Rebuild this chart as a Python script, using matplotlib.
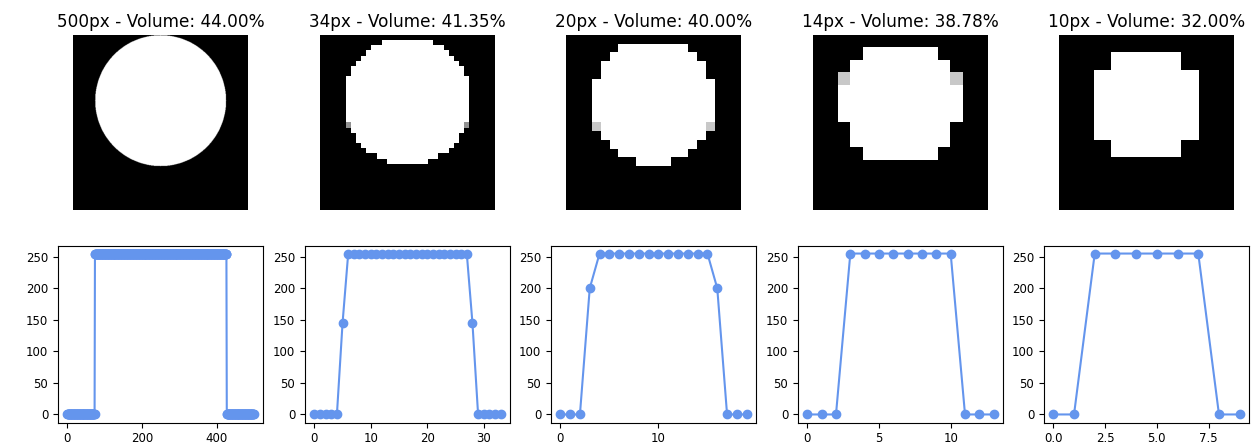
import numpy as np
import matplotlib
matplotlib.use('Agg')
import matplotlib.pyplot as plt

# resolutions and volumes shown in the titles
sizes = [500, 34, 20, 14, 10]
volumes = [44.00, 41.35, 40.00, 38.78, 32.00]

# full resolution disk (col, row) + radius
disk_center = (250, 187)
disk_radius = 187

# downsampled images: white span (first col, last col) for each row, None = empty row
spans_34 = ([None, (12, 21), (10, 23), (9, 24), (8, 25), (7, 26), (6, 27), (6, 27)]
            + [(5, 28)] * 10
            + [(6, 27), (7, 26), (7, 26), (8, 25), (9, 24), (11, 22), (13, 20)]
            + [None] * 9)
spans_20 = ([None, (6, 13), (5, 14), (4, 15), (4, 15)]
            + [(3, 16)] * 6
            + [(4, 15), (5, 14), (6, 13), (8, 11)]
            + [None] * 5)
spans_14 = ([None, (4, 9), (3, 10)]
            + [(2, 11)] * 4
            + [(3, 10), (3, 10), (4, 9)]
            + [None] * 4)
spans_10 = [None, (3, 6)] + [(2, 7)] * 4 + [(3, 6)] + [None] * 3

# grey edge pixels (row, col) and their value
grays_34 = [(17, 5), (17, 28)]
grays_20 = [(10, 3), (10, 16)]
grays_14 = [(3, 2), (3, 11)]
gray_values = [0, 145, 200, 200, 0]

xticks = [[0, 200, 400], [0, 10, 20, 30], [0, 10], [0, 5, 10], [0.0, 2.5, 5.0, 7.5]]
yticks = [0, 50, 100, 150, 200, 250]

LINE_COLOR = 'cornflowerblue'


def disk_image(n):
    rows, cols = np.ogrid[:n, :n]
    cx, cy = disk_center
    mask = (cols - cx) ** 2 + (rows - cy) ** 2 <= disk_radius ** 2
    return np.where(mask, 255, 0).astype(np.uint8)


def span_image(n, spans, grays, gray_value):
    img = np.zeros((n, n), dtype=np.uint8)
    for r, s in enumerate(spans):
        if s is not None:
            img[r, s[0]:s[1] + 1] = 255
    for r, c in grays:
        img[r, c] = gray_value
    return img


images = [
    disk_image(500),
    span_image(34, spans_34, grays_34, gray_values[1]),
    span_image(20, spans_20, grays_20, gray_values[2]),
    span_image(14, spans_14, grays_14, gray_values[3]),
    span_image(10, spans_10, [], gray_values[4]),
]

W, H = 1257, 446
fig = plt.figure(figsize=(W / 100, H / 100), dpi=100)

centers = [160.5, 407.5, 653.5, 900.5, 1146.5]
for i, (n, img) in enumerate(zip(sizes, images)):
    cx = centers[i]

    # top row: the image
    ax = fig.add_axes([(cx - 87.5) / W, (H - 210) / H, 175 / W, 175 / H])
    ax.imshow(img, cmap='gray', vmin=0, vmax=255,
              interpolation='nearest' if n < 100 else 'antialiased')
    ax.set_title(f'{n}px - Volume: {volumes[i]:.2f}%', fontsize=12.2)
    ax.axis('off')

    # bottom row: middle row profile
    profile = img[n // 2].astype(float)
    ax2 = fig.add_axes([(cx - 102.5) / W, (H - 422.5) / H, 205 / W, 177 / H])
    ax2.plot(np.arange(n), profile, 'o-', color=LINE_COLOR)
    ax2.set_xticks(xticks[i])
    ax2.set_yticks(yticks)
    ax2.tick_params(labelsize=8.5)

fig.savefig('out.png', dpi=100)
